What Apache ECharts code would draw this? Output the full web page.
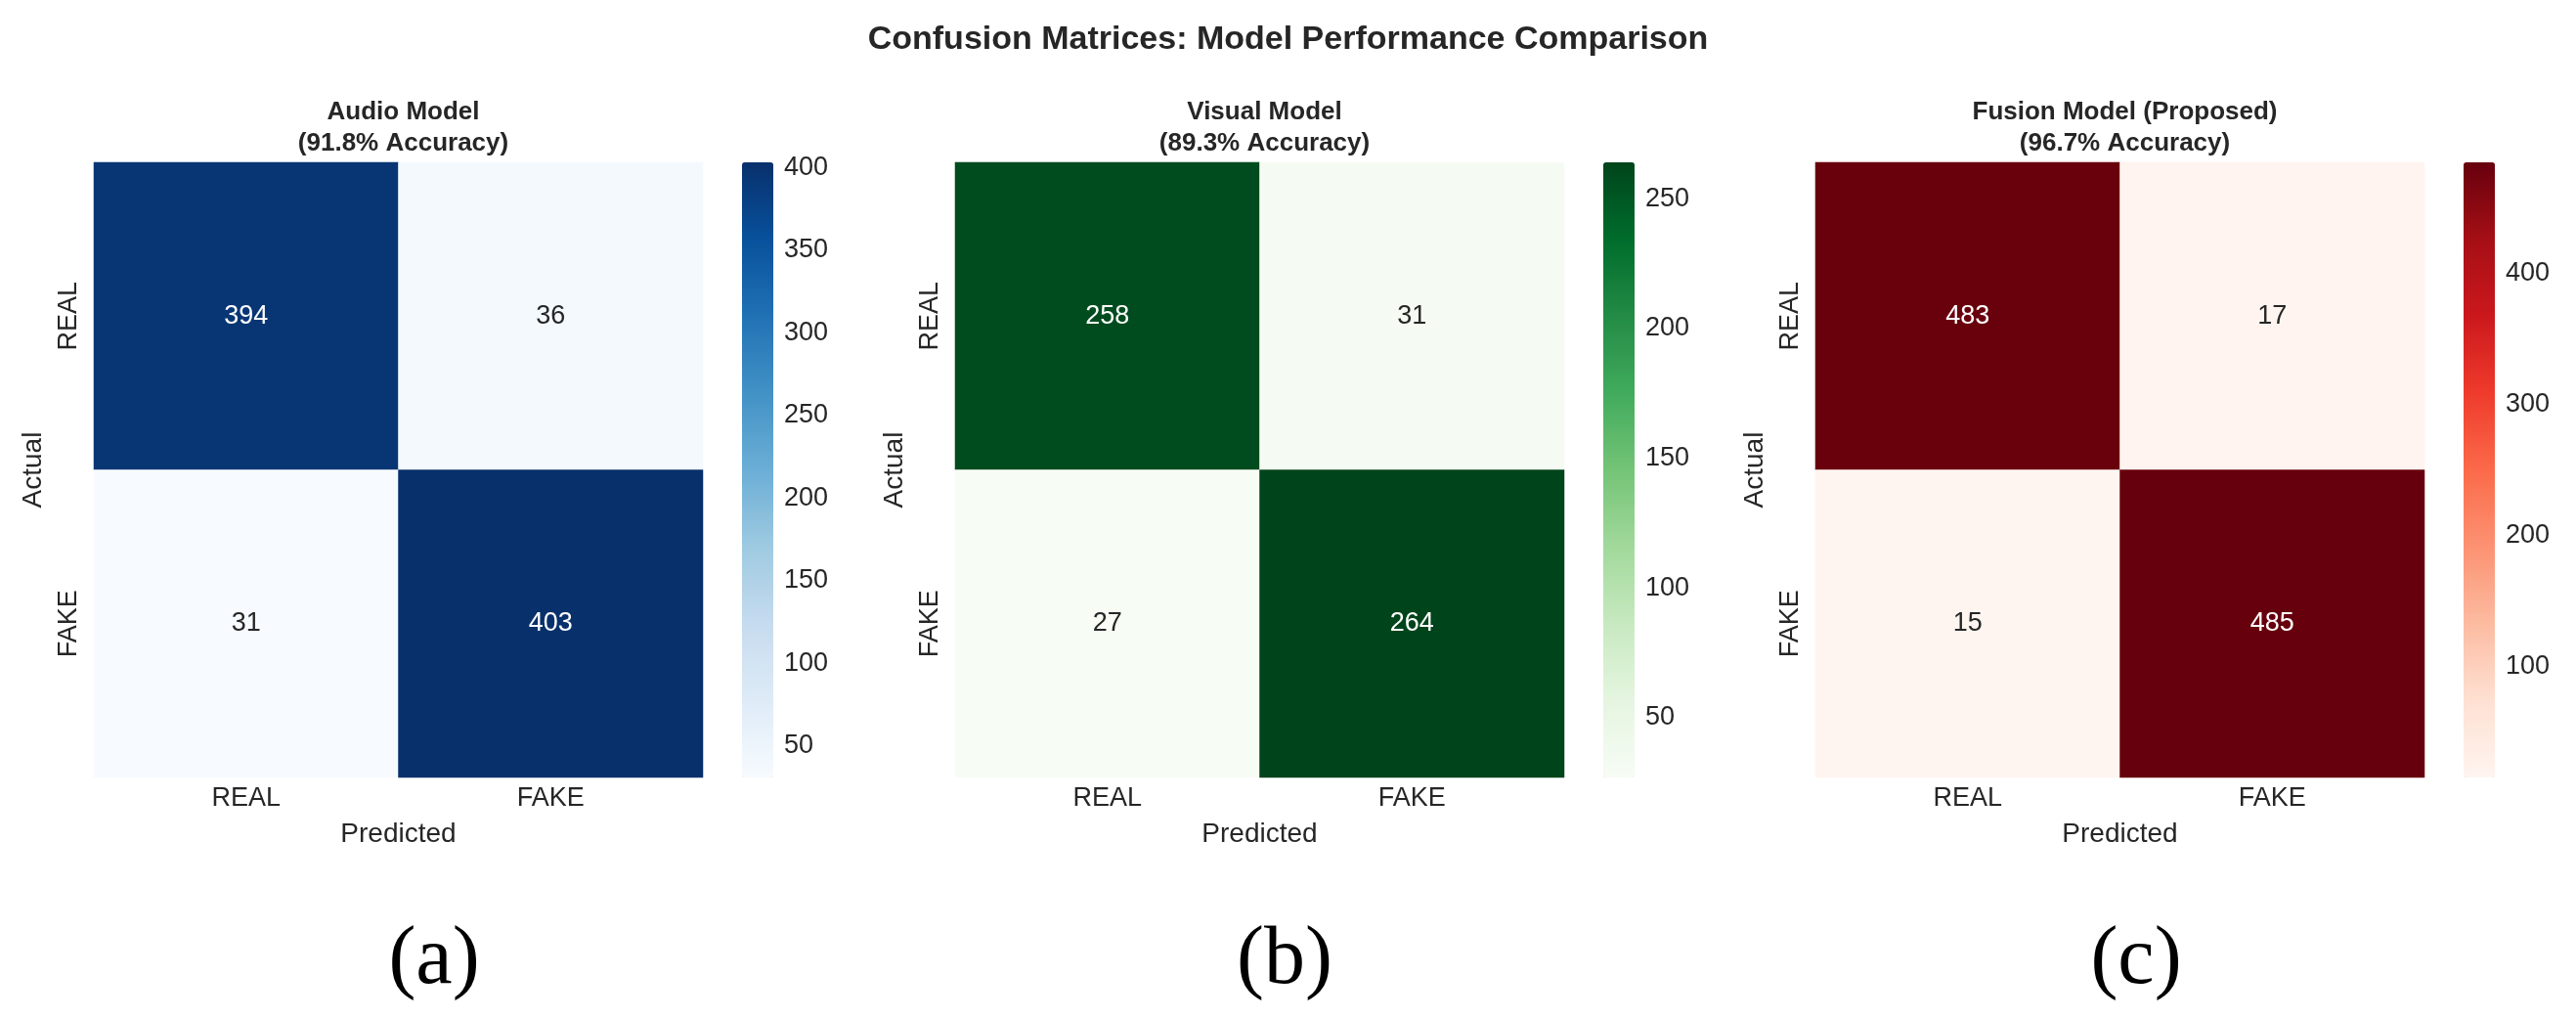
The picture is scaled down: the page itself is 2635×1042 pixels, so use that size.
<!DOCTYPE html>
<html>
<head>
<meta charset="utf-8">
<title>Confusion Matrices</title>
<script src="https://cdn.jsdelivr.net/npm/echarts@6/dist/echarts.min.js"></script>
<style>
  html, body { margin: 0; padding: 0; background: #ffffff; }
  #chart { width: 2635px; height: 1042px; }
</style>
</head>
<body>
<div id="chart"></div>
<script>
// class labels (rows = actual, columns = predicted)
var classes = ['REAL', 'FAKE'];

// confusion matrix values, row by row
var audioMatrix = [[394, 36], [31, 403]];
var visualMatrix = [[258, 31], [27, 264]];
var fusionMatrix = [[483, 17], [15, 485]];

// colorbar tick labels
var audioTicks = [50, 100, 150, 200, 250, 300, 350, 400];
var visualTicks = [50, 100, 150, 200, 250];
var fusionTicks = [100, 200, 300, 400];

var panelTitles = [
    'Audio Model\n(91.8% Accuracy)',
    'Visual Model\n(89.3% Accuracy)',
    'Fusion Model (Proposed)\n(96.7% Accuracy)'
];
var panelTags = ['(a)', '(b)', '(c)'];
var mainTitle = 'Confusion Matrices: Model Performance Comparison';

// matplotlib Blues / Greens / Reds
var bluesMap = ['#f7fbff', '#deebf7', '#c6dbef', '#9ecae1', '#6baed6', '#4292c6', '#2171b5', '#08519c', '#08306b'];
var greensMap = ['#f7fcf5', '#e5f5e0', '#c7e9c0', '#a1d99b', '#74c476', '#41ab5d', '#238b45', '#006d2c', '#00441b'];
var redsMap = ['#fff5f0', '#fee0d2', '#fcbba1', '#fc9272', '#fb6a4a', '#ef3b2c', '#cb181d', '#a50f15', '#67000d'];

var matrices = [audioMatrix, visualMatrix, fusionMatrix];
var tickSets = [audioTicks, visualTicks, fusionTicks];
var colorMaps = [bluesMap, greensMap, redsMap];

// layout
var heatLeft = [96, 977, 1857];
var heatTop = 166;
var heatW = 623;
var heatH = 629;
var cbLeft = [759, 1640, 2520];
var cbW = 32;
var tagCenter = [439, 1309, 2180];

var textColor = '#262626';
var sansFont = 'Liberation Sans, Arial, sans-serif';

var chart = echarts.init(document.getElementById('chart'));

var grids = [], xAxes = [], yAxes = [], series = [], visualMaps = [];
var titles = [{
    text: mainTitle,
    left: 'center',
    top: 19,
    textStyle: { fontFamily: sansFont, fontSize: 34, fontWeight: 'bold', color: textColor }
}];

function flatMin(m) { return Math.min.apply(null, m[0].concat(m[1])); }
function flatMax(m) { return Math.max.apply(null, m[0].concat(m[1])); }

for (var p = 0; p < 3; p++) {
    var m = matrices[p];
    var vmin = flatMin(m), vmax = flatMax(m);

    grids.push({ left: heatLeft[p], top: heatTop, width: heatW, height: heatH });

    xAxes.push({
        type: 'category', gridIndex: p, data: classes,
        axisLine: { show: false }, axisTick: { show: false },
        splitLine: { show: false }, splitArea: { show: false },
        axisLabel: { fontFamily: sansFont, fontSize: 27, color: textColor, margin: 8 },
        name: 'Predicted', nameLocation: 'middle', nameGap: 44,
        nameTextStyle: { fontFamily: sansFont, fontSize: 28, color: textColor }
    });
    yAxes.push({
        type: 'category', gridIndex: p, data: classes, inverse: true,
        axisLine: { show: false }, axisTick: { show: false },
        splitLine: { show: false }, splitArea: { show: false },
        axisLabel: { fontFamily: sansFont, fontSize: 27, color: textColor, rotate: 90, margin: 12 },
        name: 'Actual', nameLocation: 'middle', nameGap: 48, nameRotate: 90,
        nameTextStyle: { fontFamily: sansFont, fontSize: 28, color: textColor }
    });

    var data = [];
    for (var r = 0; r < 2; r++) {
        for (var c = 0; c < 2; c++) {
            var v = m[r][c];
            var dark = (v - vmin) / (vmax - vmin) > 0.5;
            data.push({ value: [c, r, v], label: { color: dark ? '#ffffff' : textColor } });
        }
    }
    series.push({
        type: 'heatmap', xAxisIndex: p, yAxisIndex: p, data: data,
        itemStyle: { borderWidth: 0 },
        label: {
            show: true, fontFamily: sansFont, fontSize: 27,
            formatter: function (d) { return d.value[2]; }
        },
        emphasis: { disabled: true }
    });

    visualMaps.push({
        type: 'continuous', seriesIndex: p, min: vmin, max: vmax,
        left: cbLeft[p], top: heatTop, itemWidth: cbW, itemHeight: heatH,
        padding: 0, calculable: false, hoverLink: false, realtime: false,
        inRange: { color: colorMaps[p] },
        textStyle: { color: 'rgba(0,0,0,0)' }
    });

    titles.push({
        text: panelTitles[p],
        left: heatLeft[p] + heatW / 2, textAlign: 'center', top: 94,
        textStyle: { fontFamily: sansFont, fontSize: 26, fontWeight: 'bold', color: textColor, lineHeight: 32 }
    });
    titles.push({
        text: panelTags[p],
        left: tagCenter[p], textAlign: 'center', top: 936,
        textStyle: { fontFamily: 'Liberation Serif, Times New Roman, serif', fontSize: 84, fontWeight: 'normal', color: '#000000' }
    });
}

// colorbar tick axes, laid over each visualMap bar
for (var q = 0; q < 3; q++) {
    var mm = matrices[q];
    grids.push({ left: cbLeft[q], top: heatTop, width: cbW, height: heatH });
    xAxes.push({ type: 'value', gridIndex: 3 + q, show: false });
    yAxes.push({
        type: 'value', gridIndex: 3 + q, position: 'right',
        min: flatMin(mm), max: flatMax(mm),
        axisLine: { show: false }, axisTick: { show: false }, splitLine: { show: false },
        axisLabel: {
            fontFamily: sansFont, fontSize: 27, color: textColor, margin: 11,
            customValues: tickSets[q]
        }
    });
}

chart.setOption({
    backgroundColor: '#ffffff',
    animation: false,
    title: titles,
    grid: grids,
    xAxis: xAxes,
    yAxis: yAxes,
    visualMap: visualMaps,
    series: series
});
</script>
</body>
</html>
